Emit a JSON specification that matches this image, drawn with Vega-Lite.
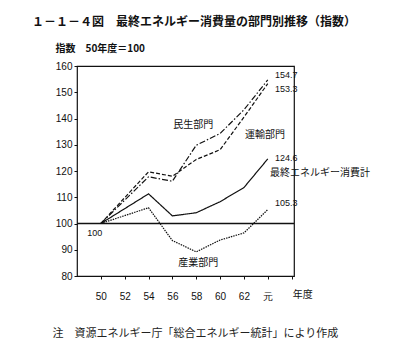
{
  "$schema": "https://vega.github.io/schema/vega-lite/v6.json",
  "autosize": "none",
  "width": 217,
  "height": 210,
  "padding": {"left": 77, "top": 66, "right": 124, "bottom": 82},
  "background": "white",
  "title": {
    "text": "１－１－４図　最終エネルギー消費量の部門別推移（指数）",
    "anchor": "start",
    "frame": "group",
    "dx": -45,
    "offset": 14,
    "font": "Noto Sans CJK JP",
    "fontSize": 12,
    "fontWeight": "bold",
    "color": "#111"
  },
  "config": {
    "view": {"stroke": "#111", "strokeWidth": 1.2},
    "axis": {
      "grid": false,
      "domain": false,
      "tickColor": "#111",
      "tickSize": 3,
      "labelColor": "#111",
      "labelFont": "Liberation Sans",
      "labelFontSize": 10,
      "labelOverlap": false,
      "labelFlush": false
    }
  },
  "datasets": {
    "lines": [
      {"series": "民生部門", "year": 50, "value": 100},
      {"series": "民生部門", "year": 54, "value": 117.8},
      {"series": "民生部門", "year": 56, "value": 116.1},
      {"series": "民生部門", "year": 58, "value": 129.8},
      {"series": "民生部門", "year": 60, "value": 134.3},
      {"series": "民生部門", "year": 62, "value": 143.3},
      {"series": "民生部門", "year": 64, "value": 154.7},
      {"series": "運輸部門", "year": 50, "value": 100},
      {"series": "運輸部門", "year": 54, "value": 119.7},
      {"series": "運輸部門", "year": 56, "value": 118.0},
      {"series": "運輸部門", "year": 58, "value": 124.4},
      {"series": "運輸部門", "year": 60, "value": 128.1},
      {"series": "運輸部門", "year": 62, "value": 140.5},
      {"series": "運輸部門", "year": 64, "value": 153.3},
      {"series": "最終エネルギー消費計", "year": 50, "value": 100},
      {"series": "最終エネルギー消費計", "year": 54, "value": 111.3},
      {"series": "最終エネルギー消費計", "year": 56, "value": 102.9},
      {"series": "最終エネルギー消費計", "year": 58, "value": 104.1},
      {"series": "最終エネルギー消費計", "year": 60, "value": 108.3},
      {"series": "最終エネルギー消費計", "year": 62, "value": 113.7},
      {"series": "最終エネルギー消費計", "year": 64, "value": 124.6},
      {"series": "産業部門", "year": 50, "value": 100},
      {"series": "産業部門", "year": 54, "value": 106.0},
      {"series": "産業部門", "year": 56, "value": 93.5},
      {"series": "産業部門", "year": 58, "value": 89.2},
      {"series": "産業部門", "year": 60, "value": 93.7},
      {"series": "産業部門", "year": 62, "value": 96.4},
      {"series": "産業部門", "year": 64, "value": 105.3}
    ],
    "numlabels": [
      {"label": "154.7", "year": 64.61, "value": 156.5},
      {"label": "153.3", "year": 64.61, "value": 151.4},
      {"label": "124.6", "year": 64.61, "value": 124.9},
      {"label": "105.3", "year": 64.61, "value": 107.7},
      {"label": "100", "year": 48.85, "value": 96.4}
    ],
    "jplabels": [
      {"label": "民生部門", "year": 56.08, "value": 137.4},
      {"label": "運輸部門", "year": 62.09, "value": 133.6},
      {"label": "産業部門", "year": 56.5, "value": 84.8},
      {"label": "最終エネルギー消費計", "year": 64.19, "value": 119.3},
      {"label": "年度", "year": 66.1, "value": 72.8}
    ]
  },
  "encoding": {
    "x": {
      "field": "year",
      "type": "quantitative",
      "scale": {"domain": [48, 66.2], "nice": false, "zero": false},
      "axis": {
        "values": [50, 52, 54, 56, 58, 60, 62, 64, 66],
        "labelExpr": "datum.value == 64 ? '元' : (datum.value == 66 ? '' : datum.label)",
        "labelOverlap": false,
        "labelPadding": 12,
        "title": "注　資源エネルギー庁「総合エネルギー統計」により作成",
        "titleFont": "Noto Sans CJK JP",
        "titleFontSize": 11,
        "titleFontWeight": "normal",
        "titleColor": "#222",
        "titleAlign": "left",
        "titleBaseline": "middle",
        "titleX": -25,
        "titleY": 57
      }
    },
    "y": {
      "field": "value",
      "type": "quantitative",
      "scale": {"domain": [80, 160], "nice": false, "zero": false},
      "axis": {
        "values": [80, 90, 100, 110, 120, 130, 140, 150, 160],
        "labelOverlap": false,
        "labelPadding": 2,
        "title": "指数　50年度＝100",
        "titleAngle": 0,
        "titleFont": "Noto Sans CJK JP",
        "titleFontSize": 10,
        "titleFontWeight": "bold",
        "titleColor": "#111",
        "titleAlign": "left",
        "titleBaseline": "middle",
        "titleX": -22,
        "titleY": -18
      }
    }
  },
  "layer": [
    {
      "data": {"values": [{"value": 100}]},
      "mark": {"type": "rule", "color": "#111", "strokeWidth": 1.6},
      "encoding": {"x": {"value": 0}, "x2": {"value": 217}}
    },
    {
      "data": {"name": "lines"},
      "mark": {"type": "line", "color": "#111"},
      "encoding": {
        "detail": {"field": "series"},
        "strokeDash": {
          "field": "series",
          "type": "nominal",
          "scale": {
            "domain": ["民生部門", "運輸部門", "最終エネルギー消費計", "産業部門"],
            "range": [[6, 2, 1.5, 2], [4, 2], [1, 0], [1.5, 1]]
          },
          "legend": null
        },
        "strokeWidth": {
          "field": "series",
          "type": "nominal",
          "scale": {
            "domain": ["民生部門", "運輸部門", "最終エネルギー消費計", "産業部門"],
            "range": [1.2, 1.2, 1.4, 1]
          },
          "legend": null
        }
      }
    },
    {
      "data": {"name": "numlabels"},
      "mark": {"type": "text", "align": "left", "baseline": "middle", "font": "Liberation Sans", "fontSize": 9, "color": "#111"},
      "encoding": {"text": {"field": "label"}}
    },
    {
      "data": {"name": "jplabels"},
      "mark": {"type": "text", "align": "left", "baseline": "middle", "font": "Noto Sans CJK JP", "fontSize": 10, "color": "#111"},
      "encoding": {"text": {"field": "label"}}
    }
  ]
}
